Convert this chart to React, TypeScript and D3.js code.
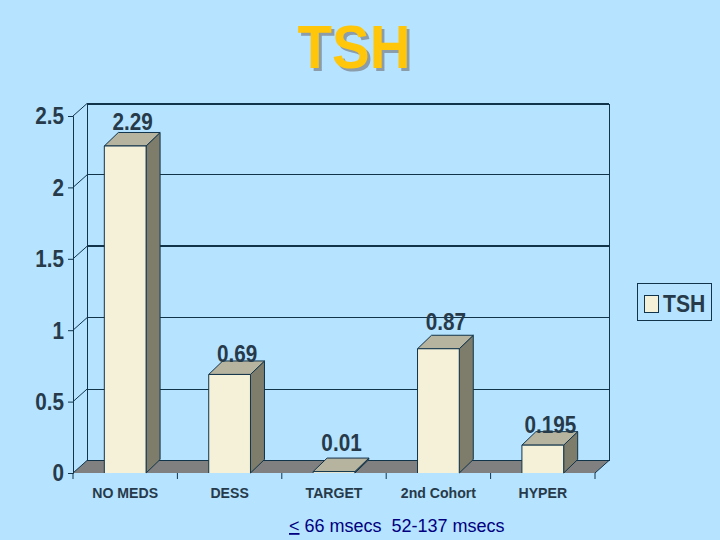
import React, { useEffect, useRef } from 'react';
import * as d3 from 'd3';

const categories = ['NO MEDS', 'DESS', 'TARGET', '2nd Cohort', 'HYPER'];
const values = [2.29, 0.69, 0.01, 0.87, 0.195];
const yTicks = [0, 0.5, 1, 1.5, 2, 2.5];
const heavyGrid = [1.5, 2.5];
// the data labels were placed by hand in the original, so each has its own gap above the bar
const labelGaps = [2, -1, 7, 5, -1];

const BG = '#b6e3ff';
const LINE = '#12344a';
const TEXT = '#263a4a';
const FONT = '"Liberation Sans", Arial, sans-serif';

function App() {
  const svgRef = useRef<SVGSVGElement>(null);

  useEffect(() => {
    const svg = d3.select(svgRef.current);
    svg.selectAll('*').remove();

    const left = 73;
    const right = 595;
    const depthX = 14;
    const depthY = 12.5;
    const barDepthY = 13.5;

    const x = d3.scaleBand().domain(categories).range([left, right]).paddingInner(0.6).paddingOuter(0.3);
    const band = d3.scaleBand().domain(categories).range([left, right]);
    const y = d3.scaleLinear().domain([0, 2.5]).range([473, 116]);
    const poly = (pts: number[][]) => 'M' + pts.map(p => p.join(',')).join('L') + 'Z';

    // title: the shadow is part of the same text element so it stays one label
    svg.append('text')
      .attr('transform', 'translate(354,68) scale(0.91,1)')
      .attr('text-anchor', 'middle')
      .attr('font-family', FONT)
      .attr('font-weight', 'bold')
      .attr('font-size', 62)
      .attr('fill', '#ffc60a')
      .style('text-shadow', '3px 3px 0 #8b9cab')
      .text('TSH');

    // back wall and grid lines
    const grid = svg.append('g').attr('fill', 'none').attr('stroke', LINE);
    yTicks.slice(1).forEach(v => {
      const yy = y(v);
      const heavy = heavyGrid.includes(v);
      grid.append('path')
        .attr('stroke-width', heavy ? 2 : 1)
        .attr('shape-rendering', 'crispEdges')
        .attr('d', `M${left + depthX},${yy - depthY}H${right + depthX}`);
      grid.append('path')
        .attr('stroke-width', 1)
        .attr('d', `M${left},${yy}L${left + depthX},${yy - depthY}`);
    });
    grid.append('path').attr('shape-rendering', 'crispEdges').attr('d', `M${left + depthX},${y(2.5) - depthY}V${y(0) - depthY}`);
    grid.append('path').attr('shape-rendering', 'crispEdges').attr('d', `M${right + depthX},${y(2.5) - depthY}V${y(0) - depthY}`);

    // floor, no line along its front edge
    svg.append('path')
      .attr('d', poly([[left, y(0)], [left + depthX, y(0) - depthY], [right + depthX, y(0) - depthY], [right, y(0)]]))
      .attr('fill', '#808080');
    svg.append('path')
      .attr('d', `M${left},${y(0)}L${left + depthX},${y(0) - depthY}H${right + depthX}L${right},${y(0)}`)
      .attr('fill', 'none')
      .attr('stroke', LINE);

    // left axis
    const yAxis = svg.append('g')
      .attr('transform', `translate(${left},0)`)
      .call(d3.axisLeft(y).tickValues(yTicks).tickSize(5).tickFormat(d => String(d)));
    yAxis.selectAll('line, path').attr('stroke', LINE);
    yAxis.selectAll('text')
      .attr('x', null)
      .attr('dy', null)
      .attr('dominant-baseline', 'central')
      .attr('transform', 'translate(-9,0) scale(0.9,1)')
      .attr('font-family', FONT)
      .attr('font-weight', 'bold')
      .attr('font-size', 23)
      .attr('fill', TEXT);

    // bottom axis ticks and labels
    const xAxis = svg.append('g').attr('transform', `translate(0,${y(0)})`);
    [...categories.map(c => band(c) as number), right].forEach(t => {
      xAxis.append('line').attr('x1', t).attr('x2', t).attr('y1', 0).attr('y2', 6).attr('stroke', LINE);
    });
    categories.forEach(c => {
      xAxis.append('text')
        .attr('transform', `translate(${(band(c) as number) + band.bandwidth() / 2},25) scale(0.91,1)`)
        .attr('text-anchor', 'middle')
        .attr('font-family', FONT)
        .attr('font-weight', 'bold')
        .attr('font-size', 15.5)
        .attr('fill', TEXT)
        .text(c);
    });

    // bars
    const bars = svg.append('g').attr('stroke', LINE).attr('stroke-width', 1).attr('stroke-linejoin', 'round');
    categories.forEach((c, i) => {
      const x0 = x(c) as number;
      const x1 = x0 + x.bandwidth();
      const top = y(values[i]);
      const bottom = y(0);
      bars.append('path')
        .attr('d', poly([[x1, top], [x1 + depthX, top - barDepthY], [x1 + depthX, bottom - barDepthY], [x1, bottom]]))
        .attr('fill', '#7e7c6b');
      bars.append('path')
        .attr('d', poly([[x0, top], [x0 + depthX, top - barDepthY], [x1 + depthX, top - barDepthY], [x1, top]]))
        .attr('fill', '#b6b39f');
      bars.append('rect')
        .attr('x', x0)
        .attr('y', top)
        .attr('width', x.bandwidth())
        .attr('height', bottom - top)
        .attr('fill', '#f5f1d9')
        .attr('stroke', 'none');
      bars.append('path')
        .attr('d', `M${x0},${bottom}V${top}H${x1}V${bottom}`)
        .attr('fill', 'none');
      svg.append('text')
        .attr('transform', `translate(${(x0 + x1) / 2 + 7.5},${top - barDepthY - labelGaps[i]}) scale(0.9,1)`)
        .attr('text-anchor', 'middle')
        .attr('font-family', FONT)
        .attr('font-weight', 'bold')
        .attr('font-size', 23)
        .attr('fill', TEXT)
        .text(String(values[i]));
    });

    // legend
    const legend = svg.append('g');
    legend.append('rect')
      .attr('x', 637.5).attr('y', 283.5).attr('width', 74).attr('height', 37)
      .attr('fill', 'none').attr('stroke', LINE);
    legend.append('rect')
      .attr('x', 644.5).attr('y', 295.5).attr('width', 14).attr('height', 17)
      .attr('fill', '#f5f1d9').attr('stroke', LINE);
    legend.append('text')
      .attr('transform', 'translate(663,311.5) scale(0.88,1)')
      .attr('font-family', FONT)
      .attr('font-weight', 'bold')
      .attr('font-size', 24)
      .attr('fill', TEXT)
      .text('TSH');

    // note under the chart
    const note = svg.append('text')
      .attr('x', 289)
      .attr('y', 532)
      .attr('font-family', FONT)
      .attr('font-size', 18)
      .attr('fill', '#000080')
      .attr('xml:space', 'preserve')
      .style('white-space', 'pre');
    note.append('tspan').attr('text-decoration', 'underline').text('<');
    note.append('tspan').text(' 66 msecs  52-137 msecs');
  }, []);

  return (
    <svg
      ref={svgRef}
      width={720}
      height={540}
      style={{ position: 'absolute', left: 0, top: 0, display: 'block', background: BG }}
    />
  );
}

export default App;
